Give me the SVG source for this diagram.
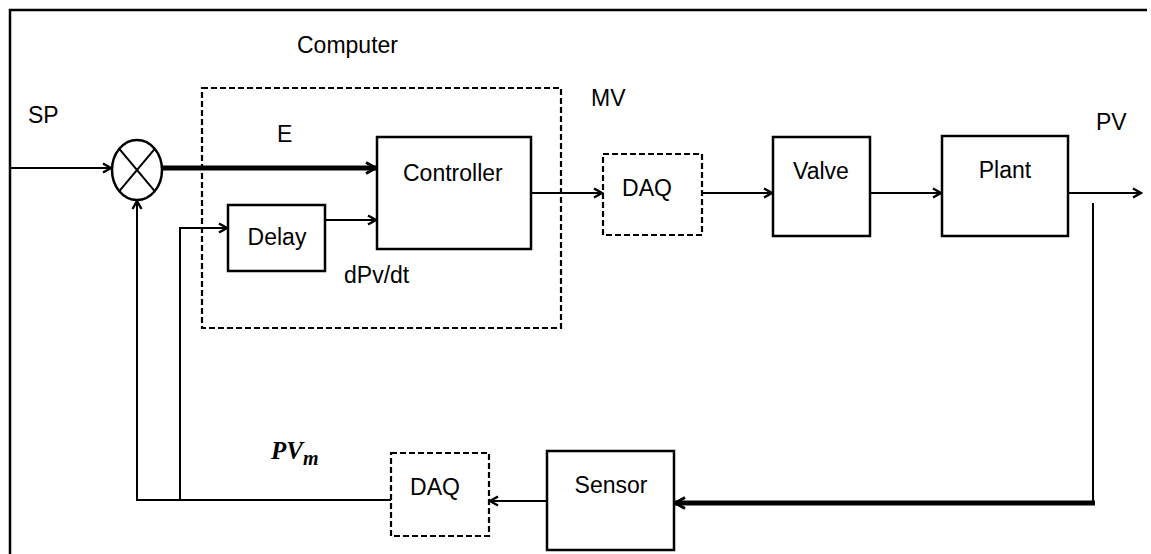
<svg xmlns="http://www.w3.org/2000/svg" width="1151" height="554" viewBox="0 0 1151 554">
  <style>
    .box { fill: #fff; stroke: #000; stroke-width: 2.5; }
    .dash { fill: none; stroke: #000; stroke-width: 2.2; stroke-dasharray: 6 3; }
    .ln { fill: none; stroke: #000; stroke-width: 2; }
    .thick { fill: none; stroke: #000; stroke-width: 5; }
    .lbl { font-family: "Liberation Sans", Arial, sans-serif; font-size: 23px; fill: #000; }
    .mid { text-anchor: middle; }
    .math { font-family: "Liberation Serif", "Times New Roman", serif; font-style: italic; font-weight: bold; fill: #000; }
  </style>
  <defs>
    <marker id="arr" viewBox="0 0 12 12" refX="10" refY="6" markerWidth="12" markerHeight="12" markerUnits="userSpaceOnUse" orient="auto">
      <path d="M2,1.5 L10,6 L2,10.5" fill="none" stroke="#000" stroke-width="2.4" stroke-linejoin="miter"/>
    </marker>
    <marker id="arrBig" viewBox="0 0 14 14" refX="12" refY="7" markerWidth="14" markerHeight="14" markerUnits="userSpaceOnUse" orient="auto">
      <path d="M2,1.5 L12,7 L2,12.5" fill="none" stroke="#000" stroke-width="3" stroke-linejoin="miter"/>
    </marker>
  </defs>

  <rect width="1151" height="554" fill="#fff"/>

  <!-- outer frame (left and top edges) -->
  <path d="M10,554 L10,10 L1147,10" fill="none" stroke="#000" stroke-width="2.5"/>

  <!-- computer boundary -->
  <g id="computer">
    <rect class="dash" x="202" y="88" width="359" height="240"/>
    <text class="lbl" x="297" y="53">Computer</text>
  </g>

  <!-- summing junction -->
  <g id="sum">
    <ellipse cx="137" cy="170" rx="25" ry="30" fill="#fff" stroke="#000" stroke-width="2.5"/>
    <path d="M119.3,148.8 L154.7,191.2 M154.7,148.8 L119.3,191.2" class="ln"/>
  </g>

  <g id="controller">
    <rect class="box" x="377" y="137" width="154" height="112"/>
    <text class="lbl" x="403" y="181">Controller</text>
  </g>

  <g id="delay">
    <rect class="box" x="228" y="205" width="97" height="66"/>
    <text class="lbl mid" x="277" y="245">Delay</text>
  </g>

  <g id="daq-out">
    <rect class="dash" x="603" y="154" width="99" height="81"/>
    <text class="lbl mid" x="647" y="196">DAQ</text>
  </g>

  <g id="valve">
    <rect class="box" x="773" y="137" width="97" height="99"/>
    <text class="lbl mid" x="821" y="179">Valve</text>
  </g>

  <g id="plant">
    <rect class="box" x="942" y="136" width="126" height="100"/>
    <text class="lbl mid" x="1005" y="178">Plant</text>
  </g>

  <g id="sensor">
    <rect class="box" x="547" y="451" width="127" height="99"/>
    <text class="lbl mid" x="611" y="493">Sensor</text>
  </g>

  <g id="daq-in">
    <rect class="dash" x="391" y="453" width="98" height="83"/>
    <text class="lbl mid" x="435" y="495">DAQ</text>
  </g>

  <!-- signal labels -->
  <g id="labels">
    <text class="lbl" x="28" y="123">SP</text>
    <text class="lbl" x="277" y="142">E</text>
    <text class="lbl" x="591" y="106">MV</text>
    <text class="lbl" x="1096" y="130">PV</text>
    <text class="lbl" x="344" y="283">dPv/dt</text>
    <text class="math" x="271" y="459" font-size="25">PV<tspan font-size="20" dy="6">m</tspan></text>
  </g>

  <!-- connectors -->
  <g id="connectors">
    <path class="ln" d="M10,168 L111,168" marker-end="url(#arr)"/>
    <path class="thick" d="M162,168 L376,168" marker-end="url(#arrBig)"/>
    <path class="ln" d="M325,220 L376,220" marker-end="url(#arr)"/>
    <path class="ln" d="M531,193 L602,193" marker-end="url(#arr)"/>
    <path class="ln" d="M702,193 L772,193" marker-end="url(#arr)"/>
    <path class="ln" d="M870,193 L941,193" marker-end="url(#arr)"/>
    <path class="ln" d="M1068,193 L1141,193" marker-end="url(#arr)"/>
    <!-- feedback path -->
    <path class="ln" d="M1093,203 L1093,503"/>
    <path class="thick" d="M1095,503 L675,503" marker-end="url(#arrBig)"/>
    <path class="ln" d="M547,501 L490,501" marker-end="url(#arr)"/>
    <path class="ln" d="M391,500 L137,500 L137,201" marker-end="url(#arr)"/>
    <path class="ln" d="M180,500 L180,228 L227,228" marker-end="url(#arr)"/>
  </g>
</svg>
